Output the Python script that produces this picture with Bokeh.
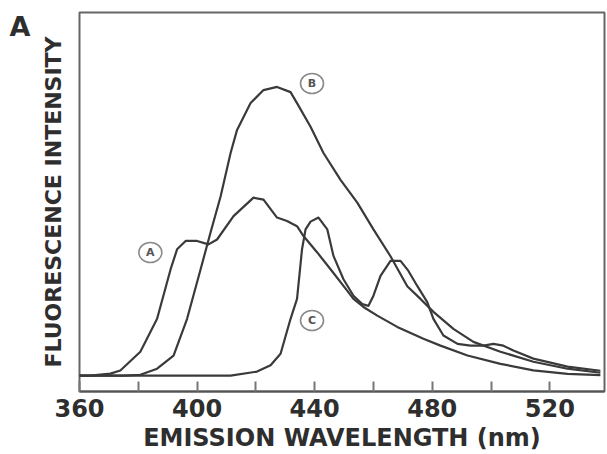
from bokeh.plotting import figure
from bokeh.models import FixedTicker, Range1d, ColumnDataSource, LinearAxis
from bokeh.core.properties import value
from bokeh.embed import file_html
from bokeh.resources import INLINE

# Emission wavelength (nm) and fluorescence intensity (arbitrary units) for each spectrum
wl_A = [360, 363.7, 370.5, 373.9, 380.7, 386.4, 391.0, 393.2, 396.1, 400.0, 403.9, 406.8,
        412.4, 419.2, 422.6, 427.2, 430.6, 434.0, 436.2, 440.8, 445.4, 449.8, 453.2, 456.6,
        461.3, 468.1, 477.0, 482.8, 492.0, 503.2, 514.4, 526.0, 537.2]
int_A = [0, 0, 0.7, 1.8, 8.3, 19.7, 36.9, 43.8, 46.7, 46.7, 45.5, 47.2,
         55.3, 61.7, 61.0, 54.8, 53.6, 51.8, 48.4, 42.8, 36.9, 31.1, 26.6, 23.8,
         20.8, 16.9, 12.8, 10.4, 7.0, 4.1, 1.8, 0.6, 0.2]

wl_B = [360, 375.0, 380.7, 386.4, 392.0, 396.6, 401.2, 404.6, 408.0, 411.4, 413.6, 418.2,
        422.6, 427.2, 431.8, 434.0, 438.6, 443.0, 448.8, 454.5, 460.0, 465.8, 471.5, 476.0,
        480.4, 487.2, 494.0, 503.2, 514.4, 526.0, 537.2]
int_B = [0, 0, 0.3, 2.4, 6.9, 19.7, 36.9, 49.7, 62.1, 77.2, 85.2, 94.5,
         99.0, 100.1, 98.3, 94.5, 86.3, 77.2, 67.9, 60.0, 50.7, 41.4, 31.0, 26.6,
         22.1, 16.2, 11.7, 8.3, 4.8, 2.4, 1.0]

wl_C = [360, 411.4, 420.4, 425.0, 428.4, 431.8, 434.0, 435.7, 436.9, 438.6, 441.3, 444.3,
        446.4, 449.8, 453.2, 456.2, 458.3, 460.0, 462.4, 465.8, 469.2, 471.9, 474.9, 478.3,
        480.4, 483.8, 488.6, 493.0, 497.4, 500.8, 504.2, 507.6, 514.4, 526.0, 537.2]
int_C = [0, 0, 1.4, 3.6, 7.6, 19.7, 26.6, 43.8, 50.7, 53.4, 54.8, 50.7,
         41.5, 33.4, 27.7, 24.8, 24.2, 27.7, 34.6, 39.8, 39.8, 36.3, 31.1, 25.5,
         19.7, 13.9, 11.0, 10.4, 10.4, 11.0, 10.4, 8.7, 5.9, 3.1, 1.7]

# Curve tags (circled letters)
tag_text = ["A", "B", "C"]
tag_x = [384.1, 439.1, 439.1]
tag_y = [42.7, 101.3, 19.1]

major_ticks = [360, 400, 440, 480, 520]
minor_ticks = [380, 420, 460, 500]

panel_letter = "A"
panel_letter_level = 121

x_start, x_end = 360, 538.6
y_start, y_end = -5.5, 125.9

FONT = "DejaVu Sans"
INK = "#2e2e2e"

p = figure(width=606, height=454, output_backend="svg", toolbar_location=None,
           x_range=Range1d(x_start, x_end), y_range=Range1d(y_start, y_end),
           min_border_left=79, min_border_right=2, min_border_top=12, min_border_bottom=61)
p.background_fill_color = "white"
p.border_fill_color = "white"
p.grid.visible = False
p.outline_line_color = "#666666"
p.outline_line_width = 2

lw = 2.2
for wl, it in ((wl_A, int_A), (wl_B, int_B), (wl_C, int_C)):
    p.line(wl, it, line_color="#3a3a3a", line_width=lw, line_join="round")

src = ColumnDataSource(dict(x=tag_x, y=tag_y, t=tag_text))
p.ellipse(x="x", y="y", width=23, height=20, width_units="screen", height_units="screen",
          source=src, fill_color="white", line_color="#8a8a8a", line_width=1.6)
p.text(x="x", y="y", text="t", source=src, text_align="center", text_baseline="middle",
       text_font=value(FONT), text_font_size="11px", text_font_style="bold", text_color="#555555")

# x axis
xa = p.xaxis[0]
xa.ticker = FixedTicker(ticks=major_ticks, minor_ticks=minor_ticks)
xa.axis_line_color = "#555555"
xa.axis_line_width = 2
xa.major_tick_in = 10
xa.major_tick_out = 0
xa.minor_tick_in = 10
xa.minor_tick_out = 0
xa.major_tick_line_color = "#777777"
xa.minor_tick_line_color = "#777777"
xa.major_tick_line_width = 2
xa.minor_tick_line_width = 2
xa.major_label_text_font = FONT
xa.major_label_text_font_size = "24px"
xa.major_label_text_font_style = "bold"
xa.major_label_text_color = INK
xa.major_label_standoff = 7
xa.axis_label = "EMISSION WAVELENGTH (nm)"
xa.axis_label_text_font = FONT
xa.axis_label_text_font_size = "24px"
xa.axis_label_text_font_style = "bold"
xa.axis_label_text_color = INK
xa.axis_label_standoff = 4

# y axis (no ticks)
ya = p.yaxis[0]
ya.ticker = FixedTicker(ticks=[])
ya.axis_line_color = None
ya.major_tick_line_color = None
ya.minor_tick_line_color = None
ya.axis_label = "FLUORESCENCE INTENSITY"
ya.axis_label_text_font = FONT
ya.axis_label_text_font_size = "22px"
ya.axis_label_text_font_style = "bold"
ya.axis_label_text_color = INK
ya.axis_label_standoff = 14

# panel letter, drawn as the single label of an outer left axis
pa = LinearAxis(ticker=FixedTicker(ticks=[panel_letter_level]),
                major_label_overrides={panel_letter_level: panel_letter})
pa.axis_line_color = None
pa.major_tick_line_color = None
pa.minor_tick_line_color = None
pa.major_tick_out = 0
pa.major_tick_in = 0
pa.major_label_standoff = 7
pa.major_label_text_font = FONT
pa.major_label_text_font_size = "27px"
pa.major_label_text_font_style = "bold"
pa.major_label_text_color = INK
p.add_layout(pa, "left")

open("out.html", "w").write(file_html(p, INLINE))
